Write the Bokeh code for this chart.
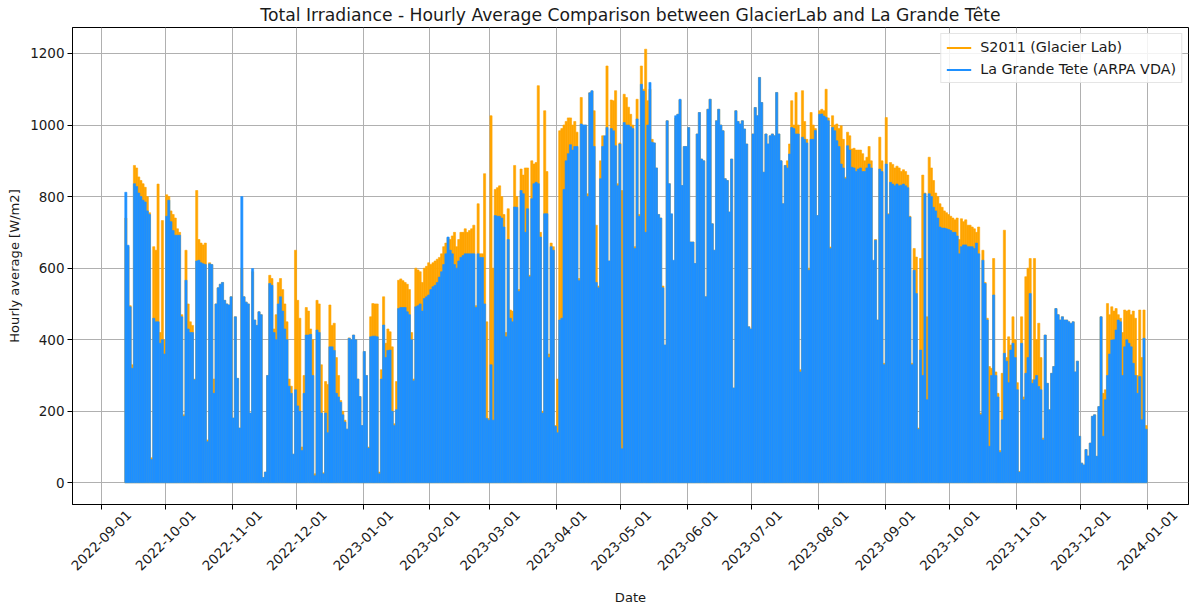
import math
import pandas as pd
from bokeh.plotting import figure
from bokeh.models import (ColumnDataSource, FixedTicker, DatetimeAxis,
                          Range1d, Legend, LegendItem)
from bokeh.embed import file_html
from bokeh.resources import INLINE

# Daily peak of the hourly-average total irradiance [W/m2], one value per day
# starting 2022-09-12 (one row per month).
first_day = "2022-09-12"

glacierlab_peak = [
    740, 660, 495, 330, 887, 880, 855, 845, 836, 826, 800, 755, 70, 660, 650, 835, 420, 733, 400,
    805, 800, 760, 750, 740, 710, 700, 470, 190, 650, 500, 450, 440, 290, 817, 680, 670, 665, 670, 120, 615, 610, 290, 500, 545, 555, 560, 510, 500, 497, 520,
    181, 464, 292, 153, 600, 520, 505, 500, 195, 590, 455, 440, 478, 470, 15, 30, 300, 580, 571, 430, 470, 560, 571, 540, 500, 450, 290, 270, 80, 650,
    510, 460, 100, 300, 490, 480, 430, 400, 25, 510, 500, 330, 28, 283, 275, 497, 440, 446, 350, 300, 230, 200, 175, 150, 405, 400, 413, 400, 290, 241, 160,
    367, 300, 100, 464, 501, 500, 500, 30, 316, 520, 390, 430, 422, 380, 165, 283, 566, 570, 565, 560, 555, 540, 420, 290, 600, 595, 590, 560, 600, 605, 615,
    610, 615, 620, 625, 630, 640, 660, 670, 685, 680, 690, 700, 660, 680, 700, 700, 710, 700, 705, 710, 720, 495, 780, 640, 640, 864, 450, 180,
    1026, 600, 820, 825, 830, 800, 750, 420, 766, 483, 480, 887, 800, 540, 877, 860, 880, 880, 580, 900, 891, 895, 1110, 700, 200, 1040, 870, 360, 670, 660, 160,
    290, 984, 990, 1000, 1010, 1020, 1020, 1000, 1010, 980, 571, 1077, 1000, 1000, 808, 1090, 1095, 1040, 720, 550, 900, 970, 960, 1165, 620, 1070, 1068, 1096, 836, 950,
    817, 1086, 1077, 1050, 1030, 1000, 660, 1072, 750, 1165, 1100, 1212, 1068, 1100, 960, 950, 880, 750, 740, 550, 385, 1012, 836, 750, 620, 1020, 1030, 1070, 831, 940, 940,
    993, 673, 673, 613, 975, 1035, 905, 900, 520, 1044, 1072, 724, 650, 1012, 1044, 1000, 984, 850, 845, 757, 905, 265, 1040, 1010, 1003, 1012, 989, 947, 436, 430,
    975, 1049, 1026, 1133, 1063, 868, 975, 947, 970, 975, 970, 1091, 975, 900, 780, 887, 900, 947, 1068, 1000, 1091, 1000, 316, 1096, 1010, 960, 600, 1035, 1000, 990, 747,
    1040, 1044, 1040, 1100, 1020, 659, 1026, 1000, 1003, 990, 998, 960, 854, 980, 970, 933, 935, 930, 930, 930, 920, 900, 910, 940, 900, 620, 680, 455, 966, 900, 334,
    1021, 752, 895, 890, 880, 885, 880, 870, 875, 870, 860, 745, 334, 655, 631, 153, 627, 860, 810, 464, 910, 880, 845, 810, 800, 780, 770, 760, 755, 750,
    745, 740, 735, 740, 680, 738, 730, 735, 720, 720, 715, 710, 700, 715, 195, 650, 560, 460, 325, 320, 627, 310, 250, 90, 306, 706, 350, 408, 385, 464, 400,
    280, 32, 464, 240, 576, 600, 627, 288, 627, 400, 446, 350, 125, 413, 278, 204, 306, 325, 487, 470, 455, 464, 455, 455, 450, 445, 450, 310, 340, 130,
    55, 50, 93, 75, 111, 186, 190, 74, 213, 464, 250, 260, 501, 470, 492, 480, 487, 470, 460, 420, 483, 480, 483, 470, 480, 460, 300, 483, 350, 483, 160,
]

grande_tete_peak = [
    812, 664, 492, 320, 836, 828, 810, 800, 790, 785, 760, 750, 65, 460, 450, 450, 390, 400, 360,
    745, 790, 730, 705, 692, 692, 692, 464, 186, 566, 430, 420, 420, 288, 620, 622, 615, 612, 610, 115, 612, 610, 250, 500, 545, 555, 560, 510, 500, 497, 520,
    181, 464, 292, 153, 800, 520, 505, 500, 195, 599, 455, 440, 478, 470, 15, 30, 300, 557, 552, 420, 400, 500, 520, 480, 430, 400, 270, 250, 80, 260,
    215, 200, 90, 250, 413, 413, 415, 300, 20, 427, 420, 195, 25, 195, 140, 380, 380, 370, 250, 240, 225, 190, 170, 150, 404, 400, 413, 400, 290, 241, 160,
    367, 300, 97, 408, 410, 410, 408, 25, 290, 441, 350, 370, 371, 200, 160, 204, 487, 490, 490, 490, 478, 470, 400, 285, 492, 495, 500, 480, 515, 520, 525,
    540, 548, 552, 560, 575, 590, 610, 640, 687, 650, 640, 610, 600, 620, 630, 635, 640, 640, 640, 640, 640, 490, 640, 630, 630, 500, 180, 175,
    330, 175, 747, 745, 745, 740, 715, 408, 680, 460, 450, 771, 770, 535, 817, 808, 700, 766, 576, 794, 836, 840, 836, 687, 195, 752, 752, 350, 660, 650, 158,
    140, 455, 460, 820, 900, 920, 945, 930, 940, 940, 565, 1003, 1000, 1000, 800, 1090, 1096, 940, 560, 545, 850, 940, 970, 993, 620, 990, 984, 942, 830, 947,
    95, 1007, 1000, 1000, 995, 990, 655, 1017, 745, 1114, 1095, 700, 1000, 1119, 952, 950, 880, 750, 740, 545, 385, 1012, 836, 752, 622, 1026, 1030, 1072, 831, 940, 940,
    993, 673, 673, 613, 975, 1035, 905, 900, 520, 1044, 1072, 724, 650, 1012, 1044, 1000, 984, 850, 845, 757, 905, 265, 1040, 1010, 1003, 1012, 989, 947, 436, 430,
    975, 1049, 1026, 1133, 1063, 868, 975, 947, 970, 975, 970, 1091, 975, 900, 780, 887, 880, 919, 993, 990, 975, 975, 310, 966, 960, 950, 594, 960, 960, 985, 747,
    1030, 1031, 1025, 1021, 1012, 655, 993, 984, 956, 940, 891, 880, 850, 942, 930, 882, 880, 870, 877, 880, 870, 870, 880, 891, 880, 622, 678, 455, 877, 870, 330,
    891, 750, 840, 835, 830, 835, 830, 832, 835, 830, 825, 743, 330, 594, 529, 150, 371, 300, 808, 232, 808, 800, 770, 760, 740, 715, 712, 712, 710, 708,
    705, 700, 700, 690, 640, 660, 665, 665, 660, 660, 660, 655, 670, 640, 190, 622, 557, 455, 102, 300, 525, 300, 240, 85, 176, 362, 340, 280, 371, 390, 350,
    260, 30, 390, 232, 306, 350, 529, 278, 288, 300, 269, 260, 120, 413, 278, 204, 306, 325, 487, 470, 455, 464, 455, 455, 450, 445, 450, 310, 340, 130,
    55, 50, 93, 75, 111, 186, 190, 74, 213, 464, 130, 232, 300, 360, 399, 400, 427, 455, 450, 300, 380, 400, 390, 380, 334, 300, 250, 297, 176, 404, 150,
]

tick_labels = [
    "2022-09-01", "2022-10-01", "2022-11-01", "2022-12-01", "2023-01-01",
    "2023-02-01", "2023-03-01", "2023-04-01", "2023-05-01", "2023-06-01",
    "2023-07-01", "2023-08-01", "2023-09-01", "2023-10-01", "2023-11-01",
    "2023-12-01", "2024-01-01",
]
y_ticks = [0, 200, 400, 600, 800, 1000, 1200]

ORANGE = "#ffa500"
BLUE = "#1e90ff"
FONT = "DejaVu Sans"
TEXT = "#1a1a1a"
TICK_SIZE = "13.5px"
LABEL_SIZE = "13.1px"
DAY_MS = 86400000
# Rotated date labels are right-anchored by Bokeh; moving the anchor by half
# of the label's horizontal run centres each label under its tick.
LABEL_SHIFT_MS = int(12.9 * DAY_MS)

days = pd.date_range(first_day, periods=len(grande_tete_peak), freq="D") + pd.Timedelta(hours=12)
src = ColumnDataSource(dict(day=days, glacier=glacierlab_peak, grande=grande_tete_peak))
tick_ms = [int(t.value // 10**6) for t in pd.to_datetime(tick_labels)]

p = figure(
    width=1198, height=608,
    x_axis_type="datetime",
    x_range=Range1d(pd.Timestamp("2022-08-18 16:00"), pd.Timestamp("2024-01-20 05:00")),
    y_range=Range1d(-60.6, 1272.6),
    output_backend="svg", toolbar_location=None,
    min_border_left=72, min_border_right=10, min_border_top=26, min_border_bottom=103,
)

p.vbar(x="day", top="glacier", bottom=0, width=DAY_MS, source=src,
       fill_color=ORANGE, line_color=ORANGE, line_width=0.6)
p.vbar(x="day", top="grande", bottom=0, width=DAY_MS, source=src,
       fill_color=BLUE, line_color=BLUE, line_width=0.6)

# Legend keys drawn as lines (renderers hold no visible points)
key_glacier = p.line(x=[days[0]], y=[float("nan")], line_color=ORANGE, line_width=2)
key_grande = p.line(x=[days[0]], y=[float("nan")], line_color=BLUE, line_width=2)
legend = Legend(items=[
    LegendItem(label="S2011 (Glacier Lab)", renderers=[key_glacier]),
    LegendItem(label="La Grande Tete (ARPA VDA)", renderers=[key_grande]),
], location="top_right")
legend.label_text_font = FONT
legend.label_text_font_size = "14.3px"
legend.label_text_color = TEXT
legend.glyph_width = 25
legend.glyph_height = 15
legend.label_height = 15
legend.label_standoff = 9
legend.spacing = 6
legend.padding = 5
legend.margin = 6
legend.border_line_color = "#cccccc"
legend.background_fill_alpha = 0.85
p.add_layout(legend)

# Title
p.title.text = "Total Irradiance - Hourly Average Comparison between GlacierLab and La Grande Tête"
p.title.align = "center"
p.title.text_font = FONT
p.title.text_font_size = "17.2px"
p.title.text_font_style = "normal"
p.title.text_color = TEXT
p.title.standoff = 5

# Main x axis: tick marks only
p.xaxis.ticker = FixedTicker(ticks=tick_ms)
p.xaxis.major_label_text_color = None
p.xaxis.major_label_standoff = 0
p.xgrid.ticker = FixedTicker(ticks=tick_ms)

# Second x axis carrying the rotated date labels and the axis title
date_axis = DatetimeAxis(
    ticker=FixedTicker(ticks=[t + LABEL_SHIFT_MS for t in tick_ms]),
    major_label_overrides={t + LABEL_SHIFT_MS: lab for t, lab in zip(tick_ms, tick_labels)},
    major_label_orientation=math.pi / 4,
    major_label_standoff=3,
    major_tick_line_color=None, major_tick_out=0, major_tick_in=0,
    minor_tick_line_color=None, axis_line_color=None,
    axis_label="Date", axis_label_standoff=12,
)
p.add_layout(date_axis, "below")

p.yaxis.ticker = FixedTicker(ticks=y_ticks)
p.yaxis.major_label_standoff = 3
p.yaxis.axis_label = "Hourly average [W/m2]"

for ax in (p.xaxis[0], date_axis, p.yaxis[0]):
    ax.axis_label_text_font = FONT
    ax.axis_label_text_font_size = LABEL_SIZE
    ax.axis_label_text_font_style = "normal"
    ax.axis_label_text_color = TEXT
    ax.major_label_text_font = FONT
    ax.major_label_text_font_size = TICK_SIZE
    ax.minor_tick_line_color = None
for ax in (p.xaxis[0], p.yaxis[0]):
    ax.axis_line_color = "black"
    ax.major_tick_line_color = "black"
    ax.major_tick_out = 5
    ax.major_tick_in = 0
date_axis.major_label_text_color = TEXT
p.yaxis.major_label_text_color = TEXT

p.outline_line_color = "black"
p.outline_line_alpha = 1.0
p.xgrid.grid_line_color = "#b0b0b0"
p.ygrid.grid_line_color = "#b0b0b0"
p.background_fill_color = "white"
p.border_fill_color = "white"

open("out.html", "w").write(file_html(p, INLINE))
